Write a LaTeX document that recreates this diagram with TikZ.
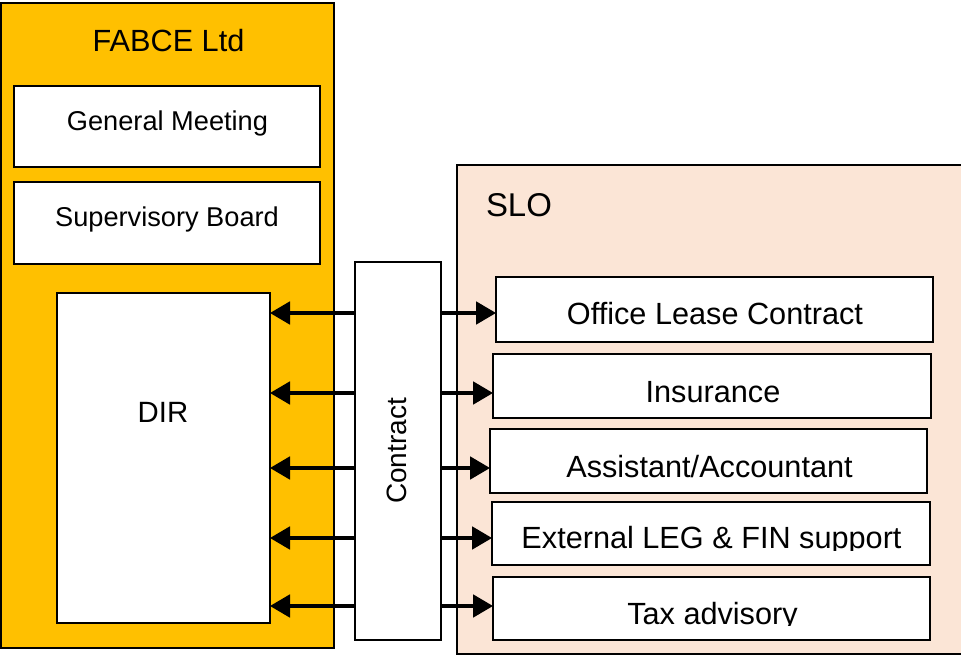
\documentclass[tikz,border=0pt]{standalone}
\usepackage{fontspec}
\setmainfont{Liberation Sans}
\usetikzlibrary{arrows.meta}
\definecolor{fabceorange}{HTML}{FFC000}
\definecolor{slopeach}{HTML}{FBE5D6}
\tikzset{
  box/.style={draw=black, line width=1.7pt, fill=white, rectangle, inner sep=0pt, outer sep=0pt},
  txt/.style={inner sep=0pt, outer sep=0pt, anchor=base},
  fleft/.style={font=\fontsize{20.4pt}{22pt}\selectfont},
  fbig/.style={font=\fontsize{23pt}{25pt}\selectfont},
  arr/.style={line width=2.3pt, -{Triangle[length=15pt, width=17pt]}}
}
\begin{document}
\begin{tikzpicture}[x=0.75pt, y=-0.75pt]
\useasboundingbox (0,0) rectangle (961,656);
\fill[white] (0,0) rectangle (961,656);
% containers
\node[box, fill=fabceorange, minimum width=249.75pt, minimum height=483.75pt] (fabce) at (167.5,325.5) {};
\node[box, fill=slopeach, minimum width=384.75pt, minimum height=366.75pt] (slo) at (713.5,409.5) {};
% left boxes
\node[box, minimum width=229.5pt, minimum height=60.75pt] (gm) at (167,126.5) {};
\node[box, minimum width=229.5pt, minimum height=61.5pt] (sb) at (167,223) {};
\node[box, minimum width=159.75pt, minimum height=247.5pt] (dir) at (163.5,458) {};
% right boxes
\node[box, minimum width=327.75pt, minimum height=48.75pt] (office) at (714.5,309.5) {};
\node[box, minimum width=328.5pt, minimum height=48pt] (ins) at (712,386) {};
\node[box, minimum width=327.75pt, minimum height=48pt] (asst) at (708.5,461) {};
\node[box, minimum width=328.5pt, minimum height=47.25pt] (ext) at (711,533.5) {};
\node[box, minimum width=327.75pt, minimum height=47.25pt] (tax) at (711.5,608.5) {};
% contract
\node[box, minimum width=64.5pt, minimum height=283.5pt] (contract) at (398,451) {};
% texts
\node[txt, fbig] (fabcet) at (168.5,52) {FABCE Ltd};
\node[txt, fleft] (gmt) at (167.5,131) {General Meeting};
\node[txt, fleft] (sbt) at (167,227) {Supervisory Board};
\node[txt, font=\fontsize{22pt}{24pt}\selectfont] (dirt) at (163,422) {DIR};
\node[txt, anchor=base west, font=\fontsize{24.7pt}{26pt}\selectfont] (slot) at (486,217) {SLO};
\node[inner sep=0pt, rotate=90, font=\fontsize{21pt}{23pt}\selectfont] (contractt) at (397,451) {Contract};
\node[txt, fbig] (officet) at (715,325) {Office Lease Contract};
\node[txt, fbig] (inst) at (713,402) {Insurance};
\node[txt, fbig] (asstt) at (709.5,477) {Assistant/Accountant};
\begin{scope}
\clip (480,495) rectangle (945,550);
\node[txt, fbig] (extt) at (711.5,548.3) {External LEG \& FIN support};
\end{scope}
\begin{scope}
\clip (480,570) rectangle (945,625.3);
\node[txt, fbig] (taxt) at (712.5,624) {Tax advisory};
\end{scope}
% arrows
\coordinate (r1) at (0,313);
\coordinate (r2) at (0,393);
\coordinate (r3) at (0,468);
\coordinate (r4) at (0,538);
\coordinate (r5) at (0,606);
\draw[arr] (contract.west |- r1) -- (dir.east |- r1);
\draw[arr] (contract.west |- r2) -- (dir.east |- r2);
\draw[arr] (contract.west |- r3) -- (dir.east |- r3);
\draw[arr] (contract.west |- r4) -- (dir.east |- r4);
\draw[arr] (contract.west |- r5) -- (dir.east |- r5);
\draw[arr] (contract.east |- r1) -- (office.west |- r1);
\draw[arr] (contract.east |- r2) -- (ins.west |- r2);
\draw[arr] (contract.east |- r3) -- (asst.west |- r3);
\draw[arr] (contract.east |- r4) -- (ext.west |- r4);
\draw[arr] (contract.east |- r5) -- (tax.west |- r5);
\end{tikzpicture}
\end{document}
